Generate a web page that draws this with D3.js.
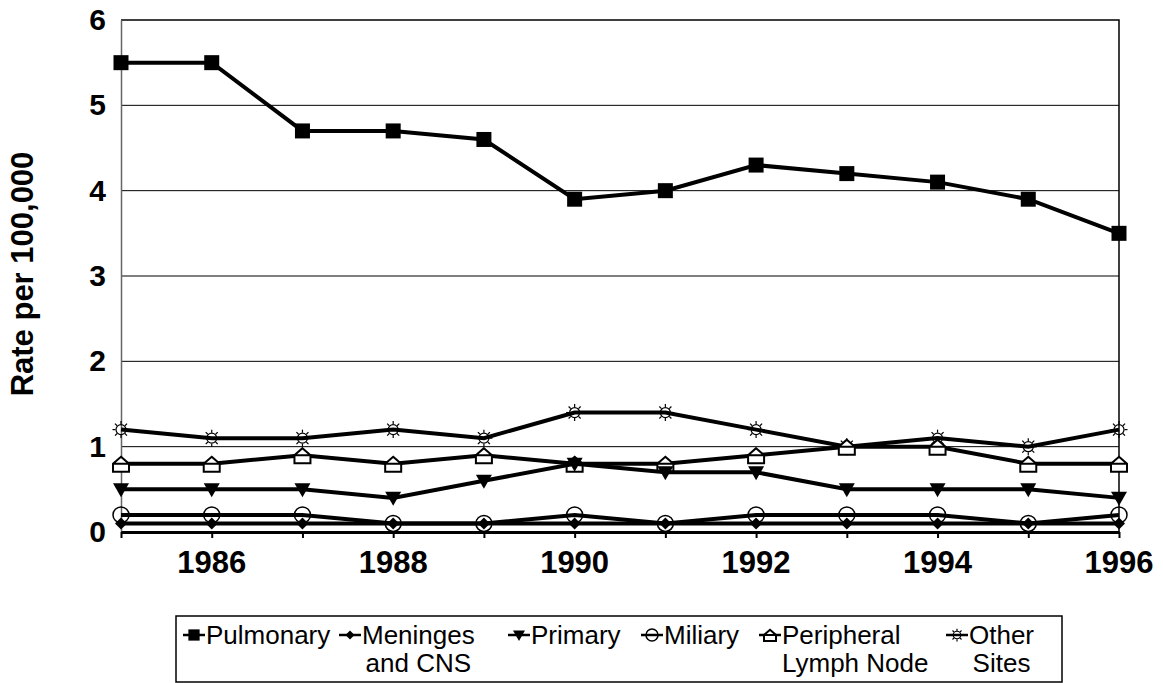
<!DOCTYPE html>
<html>
<head>
<meta charset="utf-8">
<script src="https://cdn.jsdelivr.net/npm/d3@7"></script>
<style>
  body { margin: 0; background: #fff; }
  svg { font-family: Arial, "Liberation Sans", sans-serif; }
</style>
</head>
<body>
<svg width="1163" height="683"></svg>
<script>
// data
const years = [1985, 1986, 1987, 1988, 1989, 1990, 1991, 1992, 1993, 1994, 1995, 1996];
const yTicks = [0, 1, 2, 3, 4, 5, 6];
const xLabels = [1986, 1988, 1990, 1992, 1994, 1996];

const pulmonary = [5.5, 5.5, 4.7, 4.7, 4.6, 3.9, 4.0, 4.3, 4.2, 4.1, 3.9, 3.5];
const meninges = [0.1, 0.1, 0.1, 0.1, 0.1, 0.1, 0.1, 0.1, 0.1, 0.1, 0.1, 0.1];
const primary = [0.5, 0.5, 0.5, 0.4, 0.6, 0.8, 0.7, 0.7, 0.5, 0.5, 0.5, 0.4];
const miliary = [0.2, 0.2, 0.2, 0.1, 0.1, 0.2, 0.1, 0.2, 0.2, 0.2, 0.1, 0.2];
const lymph = [0.8, 0.8, 0.9, 0.8, 0.9, 0.8, 0.8, 0.9, 1.0, 1.0, 0.8, 0.8];
const other = [1.2, 1.1, 1.1, 1.2, 1.1, 1.4, 1.4, 1.2, 1.0, 1.1, 1.0, 1.2];

const series = [
  { name: ['Pulmonary'], values: pulmonary, marker: 'square' },
  { name: ['Meninges', 'and CNS'], values: meninges, marker: 'diamond' },
  { name: ['Primary'], values: primary, marker: 'triangle' },
  { name: ['Miliary'], values: miliary, marker: 'circle' },
  { name: ['Peripheral', 'Lymph Node'], values: lymph, marker: 'house' },
  { name: ['Other', 'Sites'], values: other, marker: 'sun' }
];

const svg = d3.select('svg');
const plotLeft = 121, plotRight = 1119, plotTop = 20, plotBottom = 532;

const x = d3.scaleLinear().domain([1985, 1996]).range([plotLeft, plotRight]);
const y = d3.scaleLinear().domain([0, 6]).range([plotBottom, plotTop]);

// gridlines
svg.append('g')
  .selectAll('line')
  .data([1, 2, 3, 4, 5])
  .enter()
  .append('line')
  .attr('x1', plotLeft).attr('x2', plotRight)
  .attr('y1', (d) => y(d)).attr('y2', (d) => y(d))
  .attr('stroke', '#000').attr('stroke-width', 1);

// plot frame (top, right)
svg.append('path')
  .attr('d', `M${plotLeft},${plotTop}H${plotRight}V${plotBottom}`)
  .attr('fill', 'none').attr('stroke', '#000').attr('stroke-width', 1.5);

// y axis
const yAxis = d3.axisLeft(y).tickValues(yTicks).tickSize(0).tickPadding(15).tickFormat(d3.format('d'));
const gy = svg.append('g').attr('transform', `translate(${plotLeft},0)`).call(yAxis);
gy.select('.domain').attr('stroke', '#666').attr('stroke-width', 1.5);
gy.selectAll('text').attr('font-size', 30).attr('font-weight', 'bold').attr('fill', '#000');

// x axis
const xAxis = d3.axisBottom(x).tickValues(years).tickSize(6).tickSizeOuter(0).tickFormat('');
const gx = svg.append('g').attr('transform', `translate(0,${plotBottom})`).call(xAxis);
gx.select('.domain').attr('stroke', '#000').attr('stroke-width', 3);
gx.selectAll('.tick line').attr('stroke', '#000').attr('stroke-width', 2);

svg.append('g')
  .selectAll('text')
  .data(xLabels)
  .enter()
  .append('text')
  .attr('x', (d) => x(d))
  .attr('y', 573)
  .attr('text-anchor', 'middle')
  .attr('font-size', 31)
  .attr('font-weight', 'bold')
  .text((d) => d);

// y title
svg.append('text')
  .attr('transform', 'translate(33,274) rotate(-90)')
  .attr('text-anchor', 'middle')
  .attr('font-size', 31)
  .attr('font-weight', 'bold')
  .text('Rate per 100,000');

// marker drawing
const drawMarker = (g, type, k) => {
  if (type === 'square') {
    g.append('rect').attr('x', -7.5 * k).attr('y', -7.5 * k).attr('width', 15 * k).attr('height', 15 * k).attr('fill', '#000');
  } else if (type === 'diamond') {
    g.append('path').attr('d', `M0,${-6 * k}L${6 * k},0L0,${6 * k}L${-6 * k},0Z`).attr('fill', '#000');
  } else if (type === 'triangle') {
    g.append('path').attr('d', `M${-8 * k},${-6 * k}L${8 * k},${-6 * k}L0,${8 * k}Z`).attr('fill', '#000');
  } else if (type === 'circle') {
    g.append('circle').attr('r', 8 * k).attr('fill', 'none').attr('stroke', '#000').attr('stroke-width', 1.5);
  } else if (type === 'house') {
    g.append('path').attr('d', `M0,${-7 * k}L${8 * k},0L${8 * k},${8 * k}L${-8 * k},${8 * k}L${-8 * k},0ZM${-8 * k},0H${8 * k}`)
      .attr('fill', '#fff').attr('stroke', '#000').attr('stroke-width', 2);
  } else if (type === 'sun') {
    g.append('circle').attr('r', 5 * k).attr('fill', 'none').attr('stroke', '#000').attr('stroke-width', 1.2);
    d3.range(8).forEach((i) => {
      const a = i * Math.PI / 4;
      g.append('line')
        .attr('x1', Math.cos(a) * 5.5 * k).attr('y1', Math.sin(a) * 5.5 * k)
        .attr('x2', Math.cos(a) * 8.5 * k).attr('y2', Math.sin(a) * 8.5 * k)
        .attr('stroke', '#000').attr('stroke-width', 1.2);
    });
  }
};

const line = d3.line().x((d, i) => x(years[i])).y((d) => y(d));

// draw series from back to front
series.slice().reverse().forEach((s) => {
  const g = svg.append('g');
  g.append('path')
    .attr('d', line(s.values))
    .attr('fill', 'none')
    .attr('stroke', '#000')
    .attr('stroke-width', 4);
  s.values.forEach((v, i) => {
    const m = g.append('g').attr('transform', `translate(${x(years[i])},${y(v)})`);
    drawMarker(m, s.marker, 1);
  });
});

// legend
const legend = svg.append('g');
legend.append('rect')
  .attr('x', 176).attr('y', 616).attr('width', 886).attr('height', 66)
  .attr('fill', '#fff').attr('stroke', '#000').attr('stroke-width', 1.5);

const legendX = [194, 350, 519, 652, 770, 957];
const lineY = 635;
const legendFont = 26;
const textWidth = (g, str) => {
  const tmp = g.append('text').attr('font-size', legendFont).text(str);
  const w = tmp.node().getComputedTextLength();
  tmp.remove();
  return w;
};
series.forEach((s, i) => {
  const g = legend.append('g').attr('transform', `translate(${legendX[i]},${lineY})`);
  g.append('line').attr('x1', -11).attr('x2', 11).attr('stroke', '#000').attr('stroke-width', 2.5);
  drawMarker(g, s.marker, 0.75);
  const t = g.append('text').attr('font-size', legendFont);
  t.append('tspan').attr('x', 12).attr('y', 9).text(s.name[0]);
  if (s.name.length > 1) {
    const w0 = textWidth(g, s.name[0]);
    const w1 = textWidth(g, s.name[1]);
    t.append('tspan').attr('x', 12 + Math.max(0, (w0 - w1) / 2)).attr('y', 37).text(s.name[1]);
  }
});
</script>
</body>
</html>
